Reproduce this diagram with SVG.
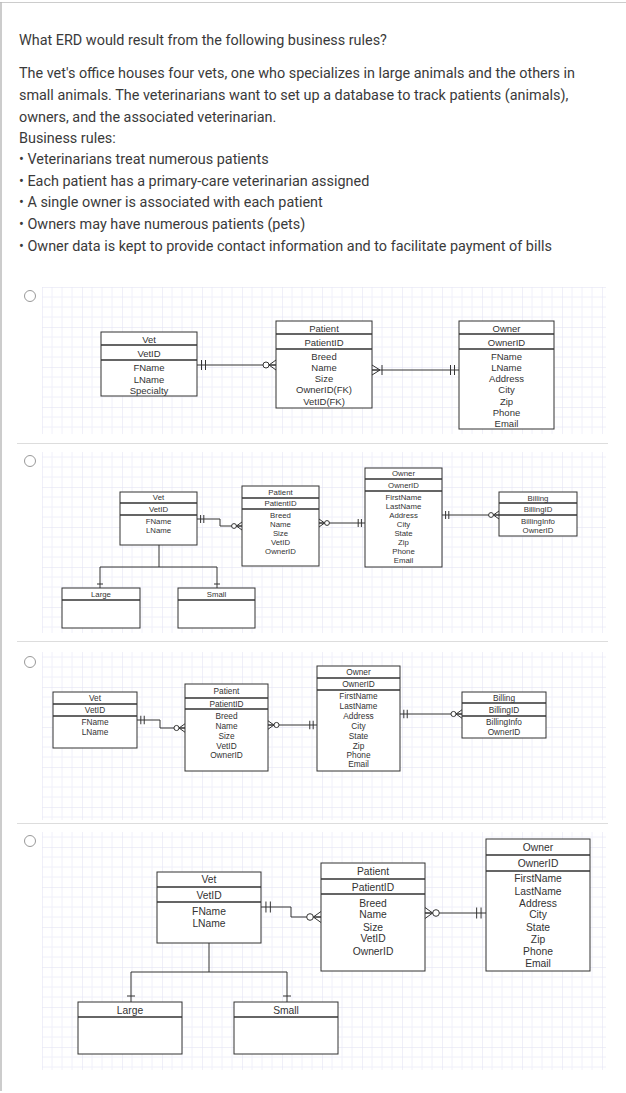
<svg xmlns="http://www.w3.org/2000/svg" xmlns:xlink="http://www.w3.org/1999/xlink" width="626" height="1093" viewBox="0 0 626 1093">
<style>
.q{font-family:Roboto,"Liberation Sans",sans-serif;font-size:14.4px;fill:#3a3a3a}
.box{fill:#fff;stroke:#333;stroke-width:1}
.sp{stroke:#333;stroke-width:1.3;fill:none}
.t{font-family:"Liberation Sans",Arial,sans-serif;fill:#333;text-anchor:middle;dominant-baseline:central}
.s1{font-size:9.5px}.s2{font-size:7.8px}.s3{font-size:8.3px}.s4{font-size:10.3px}
.cn{stroke:#333;stroke-width:1;fill:none}
.sym{stroke:#333;stroke-width:1;fill:none;vector-effect:non-scaling-stroke}
.circ{stroke:#333;stroke-width:1;fill:#fff;vector-effect:non-scaling-stroke}
.radio{fill:#fff;stroke:#999;stroke-width:1}
.rule{stroke:#ddd;stroke-width:1}
</style>
<defs>
<pattern id="grid" width="40" height="40" patternUnits="userSpaceOnUse" x="42" y="7">
<path d="M10 0V40M20 0V40M30 0V40M0 10H40M0 20H40M0 30H40" stroke="#f0f0fa" stroke-width="1" fill="none"/>
<path d="M0 0V40M0 0H40" stroke="#e0e0f2" stroke-width="1" fill="none"/>
</pattern>
<g id="one"><path class="sym" d="M4.5 -5V5M8.5 -5V5"/></g>
<g id="zm"><path class="sym" d="M0 -5L7 0L0 5M0 0H7"/><circle class="circ" cx="10" cy="0" r="3"/></g>
<g id="om"><path class="sym" d="M0 -5L8 0L0 5M0 0H8M10 -5V5"/></g>
</defs>
<rect width="626" height="1093" fill="#fff"/>
<path d="M0 2.5H626" stroke="#ccc" stroke-width="1"/>
<path d="M1 2V1091" stroke="#bbb" stroke-width="1.5"/>

<g id="question">
<text class="q" x="19" y="45">What ERD would result from the following business rules?</text>
<text class="q" x="19" y="78">The vet's office houses four vets, one who specializes in large animals and the others in</text>
<text class="q" x="19" y="99.5">small animals. The veterinarians want to set up a database to track patients (animals),</text>
<text class="q" x="19" y="121.5">owners, and the associated veterinarian.</text>
<text class="q" x="19" y="143">Business rules:</text>
<text class="q" x="19" y="164">• Veterinarians treat numerous patients</text>
<text class="q" x="19" y="186">• Each patient has a primary-care veterinarian assigned</text>
<text class="q" x="19" y="207">• A single owner is associated with each patient</text>
<text class="q" x="19" y="229">• Owners may have numerous patients (pets)</text>
<text class="q" x="19" y="251">• Owner data is kept to provide contact information and to facilitate payment of bills</text>
</g>

<g id="rules">
<path class="rule" d="M17 443.5H608M17 641.5H608M17 823.5H608"/>
</g>

<g id="grids">
<rect x="42" y="287" width="564" height="147" fill="url(#grid)"/>
<rect x="42" y="452" width="564" height="181" fill="url(#grid)"/>
<rect x="42" y="652" width="564" height="168" fill="url(#grid)"/>
<rect x="42" y="832" width="564" height="238" fill="url(#grid)"/>
</g>

<g id="radios">
<circle class="radio" cx="30" cy="296" r="5.5"/>
<circle class="radio" cx="30" cy="461" r="5.5"/>
<circle class="radio" cx="30" cy="662" r="5.5"/>
<circle class="radio" cx="30" cy="841" r="5.5"/>
</g>

<!-- Option 1 -->
<g id="o1-vet">
<rect class="box" x="101" y="332" width="96" height="64"/>
<path class="sp" d="M101 345H197M101 360H197"/>
<text class="t s1" x="149" y="339">Vet</text>
<text class="t s1" x="149" y="353">VetID</text>
<text class="t s1" x="149" y="367">FName</text>
<text class="t s1" x="149" y="379">LName</text>
<text class="t s1" x="149" y="390">Specialty</text>
</g>
<g id="o1-patient">
<rect class="box" x="276" y="321" width="96" height="87"/>
<path class="sp" d="M276 334H372M276 349H372"/>
<text class="t s1" x="324" y="328">Patient</text>
<text class="t s1" x="324" y="342">PatientID</text>
<text class="t s1" x="324" y="356">Breed</text>
<text class="t s1" x="324" y="367.3">Name</text>
<text class="t s1" x="324" y="378.6">Size</text>
<text class="t s1" x="324" y="389.9">OwnerID(FK)</text>
<text class="t s1" x="324" y="401.2">VetID(FK)</text>
</g>
<g id="o1-owner">
<rect class="box" x="459" y="321" width="95" height="108"/>
<path class="sp" d="M459 334H554M459 349H554"/>
<text class="t s1" x="506.5" y="328">Owner</text>
<text class="t s1" x="506.5" y="342">OwnerID</text>
<text class="t s1" x="506.5" y="356">FName</text>
<text class="t s1" x="506.5" y="367.3">LName</text>
<text class="t s1" x="506.5" y="378.6">Address</text>
<text class="t s1" x="506.5" y="389.9">City</text>
<text class="t s1" x="506.5" y="401.2">Zip</text>
<text class="t s1" x="506.5" y="412.5">Phone</text>
<text class="t s1" x="506.5" y="423.8">Email</text>
</g>

<!-- Option 2 -->
<g id="o2-vet">
<rect class="box" x="120" y="492" width="77" height="53"/>
<path class="sp" d="M120 503H197M120 515H197"/>
<text class="t s2" x="158.5" y="497.5">Vet</text>
<text class="t s2" x="158.5" y="509">VetID</text>
<text class="t s2" x="158.5" y="521">FName</text>
<text class="t s2" x="158.5" y="530">LName</text>
</g>
<g id="o2-patient">
<rect class="box" x="242" y="486" width="77" height="80"/>
<path class="sp" d="M242 498H319M242 509H319"/>
<text class="t s2" x="280.5" y="492">Patient</text>
<text class="t s2" x="280.5" y="503.5">PatientID</text>
<text class="t s2" x="280.5" y="515">Breed</text>
<text class="t s2" x="280.5" y="524">Name</text>
<text class="t s2" x="280.5" y="533">Size</text>
<text class="t s2" x="280.5" y="542">VetID</text>
<text class="t s2" x="280.5" y="551">OwnerID</text>
</g>
<g id="o2-owner">
<rect class="box" x="365" y="468" width="77" height="99"/>
<path class="sp" d="M365 479H442M365 491H442"/>
<text class="t s2" x="403.5" y="473.5">Owner</text>
<text class="t s2" x="403.5" y="485">OwnerID</text>
<text class="t s2" x="403.5" y="497">FirstName</text>
<text class="t s2" x="403.5" y="506">LastName</text>
<text class="t s2" x="403.5" y="515">Address</text>
<text class="t s2" x="403.5" y="524">City</text>
<text class="t s2" x="403.5" y="533">State</text>
<text class="t s2" x="403.5" y="542">Zip</text>
<text class="t s2" x="403.5" y="551">Phone</text>
<text class="t s2" x="403.5" y="560">Email</text>
</g>
<g id="o2-billing">
<rect class="box" x="499" y="492" width="78" height="44"/>
<path class="sp" d="M499 503H577M499 515H577"/>
<text class="t s2" x="538" y="498">Billing</text>
<text class="t s2" x="538" y="509">BillingID</text>
<text class="t s2" x="538" y="521">BillingInfo</text>
<text class="t s2" x="538" y="530">OwnerID</text>
</g>
<g id="o2-large">
<rect class="box" x="62" y="588" width="78" height="40"/>
<path class="sp" d="M62 600H140"/>
<text class="t s2" x="101" y="594">Large</text>
</g>
<g id="o2-small">
<rect class="box" x="178" y="588" width="77" height="40"/>
<path class="sp" d="M178 600H255"/>
<text class="t s2" x="216.5" y="594">Small</text>
</g>

<!-- Option 3 -->
<g id="o3-vet">
<rect class="box" x="53" y="692" width="84" height="56"/>
<path class="sp" d="M53 704H137M53 716H137"/>
<text class="t s3" x="95" y="698">Vet</text>
<text class="t s3" x="95" y="710">VetID</text>
<text class="t s3" x="95" y="722">FName</text>
<text class="t s3" x="95" y="732">LName</text>
</g>
<g id="o3-patient">
<rect class="box" x="185" y="684" width="83" height="87"/>
<path class="sp" d="M185 698H268M185 709H268"/>
<text class="t s3" x="226.5" y="691">Patient</text>
<text class="t s3" x="226.5" y="703.5">PatientID</text>
<text class="t s3" x="226.5" y="716">Breed</text>
<text class="t s3" x="226.5" y="726">Name</text>
<text class="t s3" x="226.5" y="736">Size</text>
<text class="t s3" x="226.5" y="745.5">VetID</text>
<text class="t s3" x="226.5" y="755">OwnerID</text>
</g>
<g id="o3-owner">
<rect class="box" x="317" y="666" width="83" height="105"/>
<path class="sp" d="M317 678H400M317 690H400"/>
<text class="t s3" x="358.5" y="672">Owner</text>
<text class="t s3" x="358.5" y="684">OwnerID</text>
<text class="t s3" x="358.5" y="696">FirstName</text>
<text class="t s3" x="358.5" y="706">LastName</text>
<text class="t s3" x="358.5" y="716">Address</text>
<text class="t s3" x="358.5" y="726">City</text>
<text class="t s3" x="358.5" y="736">State</text>
<text class="t s3" x="358.5" y="745.5">Zip</text>
<text class="t s3" x="358.5" y="755">Phone</text>
<text class="t s3" x="358.5" y="764">Email</text>
</g>
<g id="o3-billing">
<rect class="box" x="462" y="692" width="84" height="46"/>
<path class="sp" d="M462 703H546M462 716H546"/>
<text class="t s3" x="504" y="697.5">Billing</text>
<text class="t s3" x="504" y="710">BillingID</text>
<text class="t s3" x="504" y="722">BillingInfo</text>
<text class="t s3" x="504" y="732">OwnerID</text>
</g>

<!-- Option 4 -->
<g id="o4-vet">
<rect class="box" x="157" y="872" width="104" height="71" stroke-width="1.3"/>
<path class="sp" d="M157 887H261M157 902H261" stroke-width="1.8"/>
<text class="t s4" x="209" y="879.5">Vet</text>
<text class="t s4" x="209" y="895">VetID</text>
<text class="t s4" x="209" y="911">FName</text>
<text class="t s4" x="209" y="923">LName</text>
</g>
<g id="o4-patient">
<rect class="box" x="321" y="863" width="104" height="108" stroke-width="1.3"/>
<path class="sp" d="M321 879H425M321 894H425" stroke-width="1.8"/>
<text class="t s4" x="373" y="871.5">Patient</text>
<text class="t s4" x="373" y="887">PatientID</text>
<text class="t s4" x="373" y="903">Breed</text>
<text class="t s4" x="373" y="914.5">Name</text>
<text class="t s4" x="373" y="927">Size</text>
<text class="t s4" x="373" y="938.5">VetID</text>
<text class="t s4" x="373" y="951">OwnerID</text>
</g>
<g id="o4-owner">
<rect class="box" x="486" y="839" width="104" height="132" stroke-width="1.3"/>
<path class="sp" d="M486 855H590M486 871H590" stroke-width="1.8"/>
<text class="t s4" x="538" y="847">Owner</text>
<text class="t s4" x="538" y="863">OwnerID</text>
<text class="t s4" x="538" y="878.5">FirstName</text>
<text class="t s4" x="538" y="891">LastName</text>
<text class="t s4" x="538" y="903">Address</text>
<text class="t s4" x="538" y="914.5">City</text>
<text class="t s4" x="538" y="927">State</text>
<text class="t s4" x="538" y="939">Zip</text>
<text class="t s4" x="538" y="951">Phone</text>
<text class="t s4" x="538" y="963">Email</text>
</g>
<g id="o4-large">
<rect class="box" x="78" y="1002" width="104" height="52" stroke-width="1.3"/>
<path class="sp" d="M78 1017H182" stroke-width="1.8"/>
<text class="t s4" x="130" y="1010">Large</text>
</g>
<g id="o4-small">
<rect class="box" x="234" y="1002" width="104" height="52" stroke-width="1.3"/>
<path class="sp" d="M234 1017H338" stroke-width="1.8"/>
<text class="t s4" x="286" y="1010">Small</text>
</g>

<g id="connectors">
<!-- option 1 -->
<path class="cn" d="M197 365H276M372 370H459"/>
<use xlink:href="#one" transform="translate(197,365)"/>
<use xlink:href="#zm" transform="translate(276,365) scale(-1,1)"/>
<use xlink:href="#om" transform="translate(372,370)"/>
<use xlink:href="#one" transform="translate(459,370) scale(-1,1)"/>
<!-- option 2 -->
<path class="cn" d="M197 519H220V526H242M319 523H365M442 515H499"/>
<use xlink:href="#one" transform="translate(197,519) scale(0.8)"/>
<use xlink:href="#zm" transform="translate(242,526) scale(-0.8,0.8)"/>
<use xlink:href="#zm" transform="translate(319,523) scale(0.8)"/>
<use xlink:href="#one" transform="translate(365,523) scale(-0.8,0.8)"/>
<use xlink:href="#one" transform="translate(442,515) scale(0.8)"/>
<use xlink:href="#zm" transform="translate(499,515) scale(-0.8,0.8)"/>
<path class="cn" d="M159 545V567M100 567H217M100 567V588M217 567V588M97 584H103M214 584H220"/>
<!-- option 3 -->
<path class="cn" d="M137 720H160V728H185M268 725H317M400 714H462"/>
<use xlink:href="#one" transform="translate(137,720) scale(0.85)"/>
<use xlink:href="#zm" transform="translate(185,728) scale(-0.85,0.85)"/>
<use xlink:href="#zm" transform="translate(268,725) scale(0.85)"/>
<use xlink:href="#one" transform="translate(317,725) scale(-0.85,0.85)"/>
<use xlink:href="#one" transform="translate(400,714) scale(0.85)"/>
<use xlink:href="#zm" transform="translate(462,714) scale(-0.85,0.85)"/>
<!-- option 4 -->
<path class="cn" d="M261 907H291V917H321M425 913H486"/>
<use xlink:href="#one" transform="translate(261,907) scale(1.1)"/>
<use xlink:href="#zm" transform="translate(321,917) scale(-1.1,1.1)"/>
<use xlink:href="#zm" transform="translate(425,913) scale(1.1)"/>
<use xlink:href="#one" transform="translate(486,913) scale(-1.1,1.1)"/>
<path class="cn" stroke-width="1.6" d="M209 943V972M131 972H287M131 972V1002M287 972V1002M127 996H135M283 996H291"/>
</g>
</svg>
